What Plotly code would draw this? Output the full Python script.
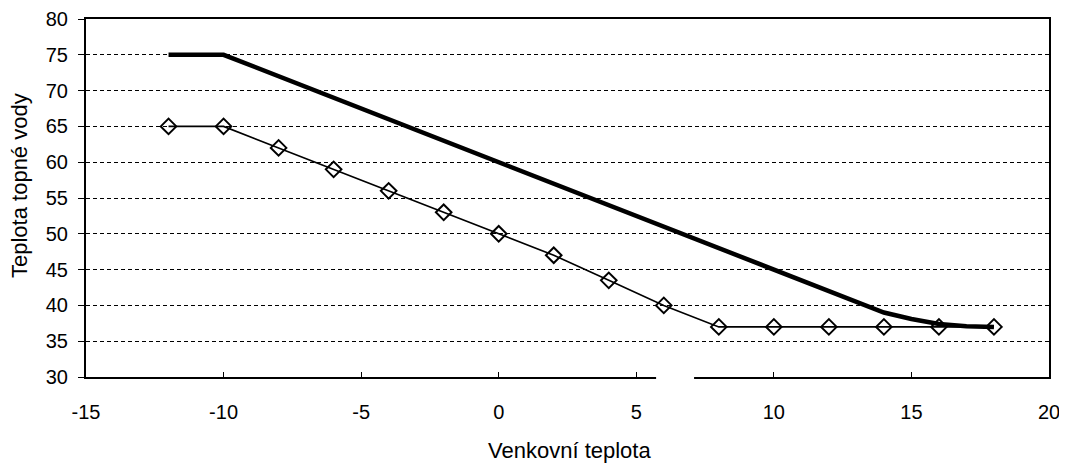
import plotly.graph_objects as go

# Data
outdoor_lower = [-12, -10, -8, -6, -4, -2, 0, 2, 4, 6, 8, 10, 12, 14, 16, 18]
water_lower = [65, 65, 62, 59, 56, 53, 50, 47, 43.5, 40, 37, 37, 37, 37, 37, 37]

outdoor_upper = [-12, -10, 14, 15, 16, 17, 18]
water_upper = [75, 75, 39, 38.1, 37.4, 37.1, 37]

x_ticks = [-15, -10, -5, 0, 5, 10, 15, 20]
y_ticks = [30, 35, 40, 45, 50, 55, 60, 65, 70, 75, 80]

fig = go.Figure()
fig.add_trace(go.Scatter(
    x=outdoor_upper, y=water_upper, mode="lines",
    line=dict(color="black", width=4.5),
    showlegend=False, hoverinfo="skip"))
fig.add_trace(go.Scatter(
    x=outdoor_lower, y=water_lower, mode="lines+markers",
    line=dict(color="black", width=1.6),
    marker=dict(symbol="diamond-open", size=12, color="black", line=dict(width=2)),
    showlegend=False))

# page body has an 8px default margin; figure is sized to fit the window
PL, PR, PT, PB = 86, 1049, 19, 377  # plot box in window pixels
W, H = 1059, 458
font = "Liberation Sans, Arial, sans-serif"
fig.update_layout(
    width=W, height=H,
    margin=dict(l=PL - 8, r=W - (PR - 8), t=PT - 8, b=H - (PB - 8)),
    paper_bgcolor="white", plot_bgcolor="white",
    font=dict(family=font, size=20, color="black"),
    xaxis=dict(range=[-15, 20], tickvals=x_ticks,
               ticktext=[str(v) for v in x_ticks],
               showgrid=False, zeroline=False, automargin=False,
               showline=True, linecolor="black", linewidth=2, mirror=True,
               ticks="inside", ticklen=5, tickcolor="black", ticklabelstandoff=16,
               tickfont=dict(size=20)),
    yaxis=dict(range=[30, 80], tickvals=y_ticks,
               showgrid=True, gridcolor="black", griddash="4px,3px", gridwidth=1,
               zeroline=False, automargin=False,
               showline=True, linecolor="black", linewidth=2, mirror=True,
               ticks="outside", ticklen=6, tickcolor="black", ticklabelstandoff=6,
               tickfont=dict(size=20)),
    annotations=[
        dict(text="Venkovní teplota", xref="paper", yref="paper",
             x=(569 - PL) / (PR - PL), y=-(450 - PB) / (PB - PT),
             showarrow=False, font=dict(size=22), xanchor="center", yanchor="middle"),
        dict(text="Teplota topné vody", xref="paper", yref="paper",
             x=-(PL - 19) / (PR - PL), y=(PB - 186) / (PB - PT), textangle=-90,
             showarrow=False, font=dict(size=22), xanchor="center", yanchor="middle"),
    ],
    shapes=[
        dict(type="line", xref="x", yref="paper", x0=5.72, x1=7.1, y0=0, y1=0,
             line=dict(color="white", width=4)),
    ],
)
fig.write_html("out.html")
